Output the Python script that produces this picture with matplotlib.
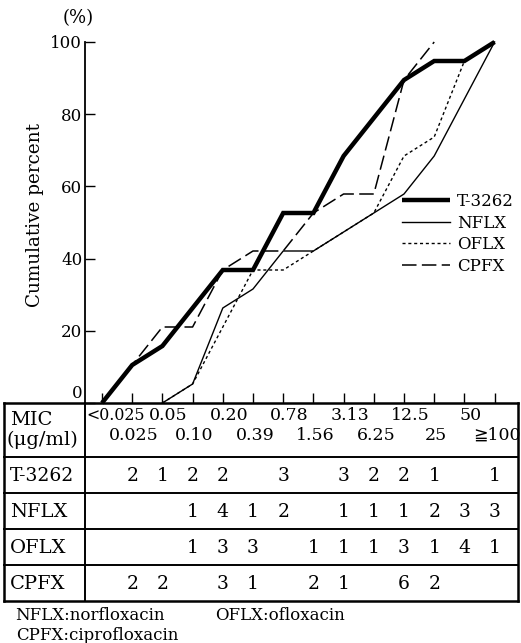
import matplotlib
matplotlib.use("Agg")
import matplotlib.pyplot as plt
from matplotlib.lines import Line2D
from matplotlib.transforms import ScaledTranslation
import numpy as np

plt.rcParams['font.family'] = ['DejaVu Serif', 'DejaVu Sans']

# MIC classes (µg/ml), lowest to highest
mic_labels = ["<0.025", "0.025", "0.05", "0.10", "0.20", "0.39", "0.78",
              "1.56", "3.13", "6.25", "12.5", "25", "50", "\u2267100"]

# Number of strains inhibited at each MIC
drugs = ["T-3262", "NFLX", "OFLX", "CPFX"]
counts_t3262 = [0, 2, 1, 2, 2, 0, 3, 0, 3, 2, 2, 1, 0, 1]
counts_nflx = [0, 0, 0, 1, 4, 1, 2, 0, 1, 1, 1, 2, 3, 3]
counts_oflx = [0, 0, 0, 1, 3, 3, 0, 1, 1, 1, 3, 1, 4, 1]
counts_cpfx = [0, 2, 2, 0, 3, 1, 0, 2, 1, 0, 6, 2, 0, 0]

y_ticks = [0, 20, 40, 60, 80, 100]
footnotes = ["NFLX:norfloxacin", "OFLX:ofloxacin", "CPFX:ciprofloxacin"]

W, H, DPI = 521, 643, 100
fig = plt.figure(figsize=(W / DPI, H / DPI), dpi=DPI)


def fx(px):
    return px / W


def fy(py):
    return 1 - py / H


# plotting area (pixel geometry of the frame)
x_left, x_right, y_top, y_bot = 85, 518, 42, 403
x0_px, step_px = 102, 30.2
ax = fig.add_axes([fx(x_left), fy(y_bot), fx(x_right) - fx(x_left), fy(y_top) - fy(y_bot)])
ax.set_xlim((x_left - x0_px) / step_px, (x_right - x0_px) / step_px)
ax.set_ylim(0, 100)
for s in ["top", "right", "bottom"]:
    ax.spines[s].set_visible(False)
ax.spines["left"].set_linewidth(1.3)

styles = {
    "T-3262": dict(color="black", lw=3.2, ls="-", solid_joinstyle="miter", solid_capstyle="butt"),
    "NFLX": dict(color="black", lw=1.0, ls="-"),
    "OFLX": dict(color="black", lw=1.0, ls=(0, (2.2, 2.0))),
    "CPFX": dict(color="black", lw=1.1, ls=(0, (9.5, 3.5))),
}
all_counts = {"T-3262": counts_t3262, "NFLX": counts_nflx,
              "OFLX": counts_oflx, "CPFX": counts_cpfx}

handles = []
for name in drugs:
    c = np.array(all_counts[name], dtype=float)
    cum = np.cumsum(c) / c.sum() * 100
    idx = np.arange(len(c))
    first = max(int(np.nonzero(c)[0][0]) - 1, 0)
    last = int(np.nonzero(c)[0][-1])
    ln, = ax.plot(idx[first:last + 1], cum[first:last + 1], clip_on=False,
                  label=name, **styles[name])
    handles.append(ln)

ax.set_xticks(np.arange(len(mic_labels)))
ax.tick_params(axis="x", direction="in", length=7, width=1.0, labelbottom=False)
ax.set_yticks(y_ticks)
ax.set_yticklabels([str(v) for v in y_ticks])
ax.tick_params(axis="y", direction="in", length=7, width=1.0, pad=2, labelsize=12)
zero_lbl = ax.yaxis.get_major_ticks()[0].label1
zero_lbl.set_transform(zero_lbl.get_transform() + ScaledTranslation(0, 11 / DPI, fig.dpi_scale_trans))

fig.text(fx(35), fy(215), "Cumulative percent", rotation=90, ha="center", va="center", fontsize=13.2)
fig.text(fx(78), fy(18), "(%)", ha="center", va="center", fontsize=13)

fig.legend(handles=handles, labels=drugs, loc="upper left",
           bbox_to_anchor=(fx(402), fy(193)), frameon=False, fontsize=12,
           borderpad=0, borderaxespad=0, handlelength=2.9, handletextpad=0.4,
           labelspacing=0.28)

# ---- table under the chart ----
tbl_left, tbl_right = 4, 518
row_lines = [403, 457, 493, 529, 565, 601]
for i, yl in enumerate(row_lines):
    lw = 1.8 if i in (0, len(row_lines) - 1) else 1.4
    fig.add_artist(Line2D([fx(tbl_left), fx(tbl_right)], [fy(yl), fy(yl)], lw=lw, color="black"))
for xl, lw in [(tbl_left, 1.8), (x_left, 1.4), (tbl_right, 1.8)]:
    fig.add_artist(Line2D([fx(xl), fx(xl)], [fy(row_lines[0]), fy(row_lines[-1])], lw=lw, color="black"))

fig.text(fx(10), fy(420), "MIC", ha="left", va="center", fontsize=14)
fig.text(fx(7), fy(440), "(\u03bcg/ml)", ha="left", va="center", fontsize=14)

# column centres follow the chart's x scale
to_fig = ax.transData + fig.transFigure.inverted()


def col_x(i):
    return to_fig.transform((i, 0))[0]


for i, lab in enumerate(mic_labels):
    if i == 0:
        fig.text(fx(x_left + 1), fy(415), lab, ha="left", va="center", fontsize=11.4)
    elif i % 2 == 0:
        fig.text(col_x(i) + fx(6), fy(415), lab, ha="center", va="center", fontsize=12.5)
    else:
        fig.text(col_x(i) + fx(2), fy(435), lab, ha="center", va="center", fontsize=12.5)

row_centres = [(row_lines[k] + row_lines[k + 1]) / 2 + 1 for k in range(1, 5)]
for name, yc in zip(drugs, row_centres):
    fig.text(fx(10), fy(yc), name, ha="left", va="center", fontsize=14 if name != "T-3262" else 13.5)
    for i, v in enumerate(all_counts[name]):
        if v:
            fig.text(col_x(i), fy(yc), str(v), ha="center", va="center", fontsize=13.5)

fig.text(fx(15), fy(615), footnotes[0], ha="left", va="center", fontsize=12)
fig.text(fx(215), fy(615), footnotes[1], ha="left", va="center", fontsize=12)
fig.text(fx(16), fy(635), footnotes[2], ha="left", va="center", fontsize=12)

fig.savefig("out.png", dpi=DPI)
